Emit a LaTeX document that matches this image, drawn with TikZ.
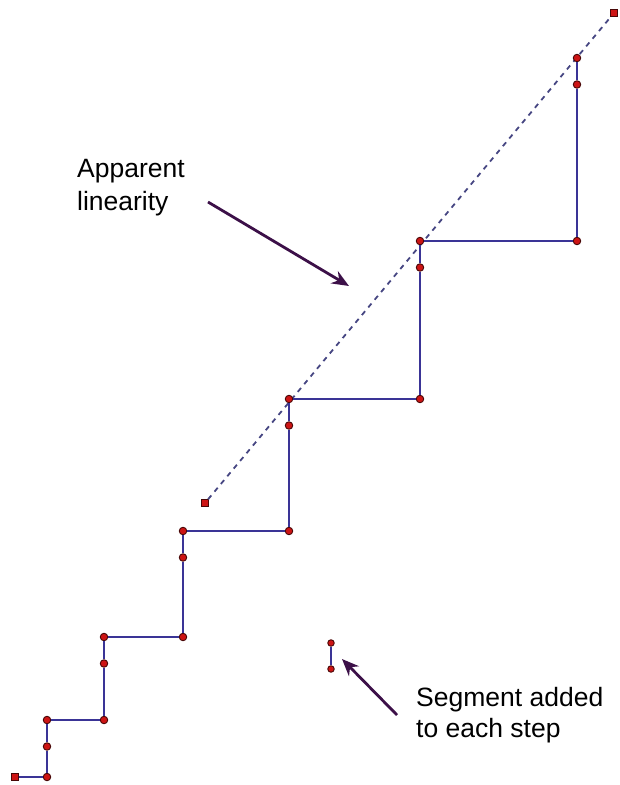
\documentclass[tikz,border=0pt]{standalone}
\usepackage{fontspec}
\setmainfont{Liberation Sans}
\usetikzlibrary{arrows.meta, positioning}
\definecolor{stairblue}{RGB}{58,52,150}
\definecolor{dotred}{RGB}{205,20,20}
\definecolor{arrowpurple}{RGB}{60,16,72}
\definecolor{guidegray}{RGB}{70,70,130}

\begin{document}
\begin{tikzpicture}[x=1pt, y=-1pt,
      dot/.style={circle, fill=dotred, draw=black!65!dotred, line width=0.9pt,
                  inner sep=0pt, minimum size=7.5pt},
      sqdot/.style={dot, rectangle, minimum size=6.5pt},
      stair/.style={stairblue, line width=2.3pt},
      guide/.style={guidegray, line width=1.8pt, dash pattern=on 5pt off 5pt},
      arr/.style={-{Stealth[length=17pt, width=14pt]}, line width=2.8pt, arrowpurple},
      lbl/.style={align=left, anchor=north west, inner sep=0pt}
    ]
    \useasboundingbox (0,0) rectangle (619,785);

    % dashed guide
    \node[sqdot] (g0) at (205,503) {};
    \node[sqdot] (g1) at (614,13) {};
    \draw[guide] (g0) -- (g1);

    % the steps
    \node[sqdot] (s0) at (15,777) {};
    \foreach \i/\x/\yb/\yt in {1/47/777/720, 2/104/720/637, 3/183/637/531,
                               4/289/531/399, 5/420/399/241, 6/577/241/58} {
      \node[dot] (b\i) at (\x,\yb) {};
      \node[dot] (m\i) at (\x,\yt+26.5) {};
      \node[dot] (t\i) at (\x,\yt) {};
      \draw[stair] (b\i) -- (m\i) -- (t\i);
    }
    \draw[stair] (s0) -- (b1);
    \foreach \i/\j in {1/2, 2/3, 3/4, 4/5, 5/6}
      \draw[stair] (t\i) -- (b\j);

    % added segment
    \node[dot, minimum size=6.5pt] (e0) at (331,643) {};
    \node[dot, minimum size=6.5pt] (e1) at (331,669) {};
    \draw[stair, line width=1.6pt] (e0) -- (e1);

    % labels
    \node[lbl, font=\fontsize{26.5}{33.5}\selectfont] (lin) at (77,159) {Apparent\\linearity};
    \node[lbl, font=\fontsize{26.5}{31}\selectfont] (seg) at (416,687) {Segment added\\to each step};

    \coordinate (la) at (208,202);
    \coordinate (lb) at (349,286);
    \draw[arr] (la) -- (lb);
    \coordinate (sa) at (397,715);
    \coordinate (sb) at (342,659);
    \draw[arr] (sa) -- (sb);
  \end{tikzpicture}
\end{document}
